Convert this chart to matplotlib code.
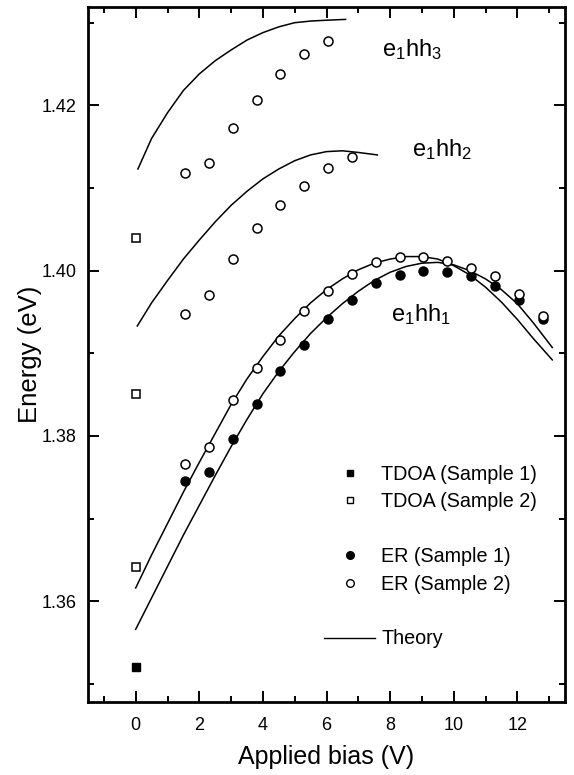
import matplotlib
matplotlib.use('Agg')
import matplotlib.pyplot as plt
from matplotlib.lines import Line2D
from matplotlib.ticker import MultipleLocator

plt.rcParams['font.family'] = ['Liberation Sans', 'DejaVu Sans']
plt.rcParams['mathtext.default'] = 'regular'

#---- data ---------------------------------------------------
bias = [1.55, 2.3, 3.05, 3.8, 4.55, 5.3, 6.05, 6.8, 7.55, 8.3, 9.05, 9.8, 10.55, 11.3, 12.05, 12.8]

# ER, e1hh1
er1_hh1 = [1.3746, 1.3756, 1.3796, 1.3839, 1.3879, 1.3910, 1.3942, 1.3965,
           1.3985, 1.3995, 1.4000, 1.3998, 1.3993, 1.3981, 1.3965, 1.3941]
er2_hh1 = [1.3766, 1.3787, 1.3843, 1.3882, 1.3916, 1.3951, 1.3975, 1.3996,
           1.4011, 1.4016, 1.4017, 1.4012, 1.4003, 1.3993, 1.3972, 1.3945]
# ER sample 2, e1hh2 and e1hh3
er2_hh2 = [1.3947, 1.3971, 1.4014, 1.4052, 1.4080, 1.4102, 1.4124, 1.4137]
er2_hh3 = [1.4118, 1.4130, 1.4172, 1.4206, 1.4238, 1.4262, 1.4278]

# TDOA at zero bias
tdoa1_v = [0.0]
tdoa1_e = [1.3520]
tdoa2_v = [0.0, 0.0, 0.0]
tdoa2_e = [1.4039, 1.3851, 1.3641]

# theory curves
th_v = [0.0, 0.5, 1.0, 1.5, 2.0, 2.5, 3.0, 3.5, 4.0, 4.5, 5.0, 5.5, 6.0, 6.5,
        7.0, 7.5, 8.0, 8.5, 9.0, 9.5, 10.0, 10.5, 11.0, 11.5, 12.0, 12.5, 13.1]
th_hh1_s2 = [1.3616, 1.3656, 1.3694, 1.3732, 1.3768, 1.3803, 1.3838, 1.3869,
             1.3896, 1.3921, 1.3942, 1.3961, 1.3977, 1.3990, 1.4001, 1.4009,
             1.4014, 1.4017, 1.4017, 1.4014, 1.4006, 1.3995, 1.3980, 1.3962,
             1.3941, 1.3918, 1.3892]
th_hh1_s1 = [1.3566, 1.3604, 1.3642, 1.3680, 1.3716, 1.3752, 1.3787, 1.3820,
             1.3851, 1.3878, 1.3902, 1.3924, 1.3943, 1.3960, 1.3975, 1.3988,
             1.3998, 1.4005, 1.4009, 1.4010, 1.4007, 1.4000, 1.3990, 1.3977,
             1.3960, 1.3937, 1.3907]

th2_v = [0.05, 0.5, 1.0, 1.5, 2.0, 2.5, 3.0, 3.5, 4.0, 4.5, 5.0, 5.5, 6.0, 6.5, 7.0, 7.6]
th_hh2 = [1.3933, 1.3961, 1.3988, 1.4014, 1.4037, 1.4059, 1.4079, 1.4096,
          1.4111, 1.4123, 1.4133, 1.4140, 1.4144, 1.4145, 1.4143, 1.4140]

th3_v = [0.07, 0.5, 1.0, 1.5, 2.0, 2.5, 3.0, 3.5, 4.0, 4.5, 5.0, 5.5, 6.0, 6.6]
th_hh3 = [1.4123, 1.4160, 1.4191, 1.4218, 1.4238, 1.4254, 1.4267, 1.4279,
          1.4288, 1.4295, 1.4300, 1.4302, 1.4303, 1.4304]

#---- figure ---------------------------------------------------
fig = plt.figure(figsize=(5.74, 7.75), dpi=100)
ax = fig.add_axes([88/574, 1 - 702/775, (565 - 88)/574, (702 - 7)/775])

lw = 1.1
ax.plot(th_v, th_hh1_s2, color='black', lw=lw)
ax.plot(th_v, th_hh1_s1, color='black', lw=lw)
ax.plot(th2_v, th_hh2, color='black', lw=lw)
ax.plot(th3_v, th_hh3, color='black', lw=lw)

ms = 6.5
ax.plot(bias, er1_hh1, 'o', ms=ms, color='black', mec='black')
ax.plot(bias, er2_hh1, 'o', ms=ms, mfc='white', mec='black', mew=1.1)
ax.plot(bias[:len(er2_hh2)], er2_hh2, 'o', ms=ms, mfc='white', mec='black', mew=1.1)
ax.plot(bias[:len(er2_hh3)], er2_hh3, 'o', ms=ms, mfc='white', mec='black', mew=1.1)
ax.plot(tdoa1_v, tdoa1_e, 's', ms=6, color='black')
ax.plot(tdoa2_v, tdoa2_e, 's', ms=6, mfc='white', mec='black', mew=1.1)

ax.text(8.7, 1.4267, r'e$_1$hh$_3$', fontsize=17, ha='center', va='center')
ax.text(9.62, 1.4147, r'e$_1$hh$_2$', fontsize=17, ha='center', va='center')
ax.text(8.97, 1.3947, r'e$_1$hh$_1$', fontsize=17, ha='center', va='center')

# legend
blank = Line2D([], [], linestyle='none')
handles = [
    Line2D([], [], ls='none', marker='s', ms=5, color='black'),
    Line2D([], [], ls='none', marker='s', ms=5, mfc='white', mec='black'),
    blank,
    Line2D([], [], ls='none', marker='o', ms=5.5, color='black'),
    Line2D([], [], ls='none', marker='o', ms=5.5, mfc='white', mec='black'),
    blank,
    Line2D([], [], color='black', lw=1.0),
]
labels = ['TDOA (Sample 1)', 'TDOA (Sample 2)', '', 'ER (Sample 1)',
          'ER (Sample 2)', '', 'Theory']
ax.legend(handles, labels, loc='lower left', bbox_to_anchor=(0.495, 0.077),
          frameon=False, fontsize=14.2, handlelength=2.6, handletextpad=0.3,
          labelspacing=0.43, borderpad=0, borderaxespad=0)

ax.set_xlim(-1.5, 13.5)
ax.set_ylim(1.3478, 1.4319)
ax.xaxis.set_major_locator(MultipleLocator(2))
ax.xaxis.set_minor_locator(MultipleLocator(1))
ax.yaxis.set_major_locator(MultipleLocator(0.02))
ax.yaxis.set_minor_locator(MultipleLocator(0.01))
ax.yaxis.set_major_formatter(plt.FormatStrFormatter('%.2f'))
ax.tick_params(which='both', direction='in', top=True, right=True, labelsize=13, width=1.4)
ax.tick_params(which='major', length=8, pad=8)
ax.tick_params(which='minor', length=4)
ax.tick_params(axis='x', which='major', pad=11)
for s in ax.spines.values():
    s.set_linewidth(2)

ax.set_xlabel('Applied bias (V)', fontsize=18, labelpad=8)
ax.set_ylabel('Energy (eV)', fontsize=18.5, labelpad=0)

fig.savefig('out.png', dpi=100)
